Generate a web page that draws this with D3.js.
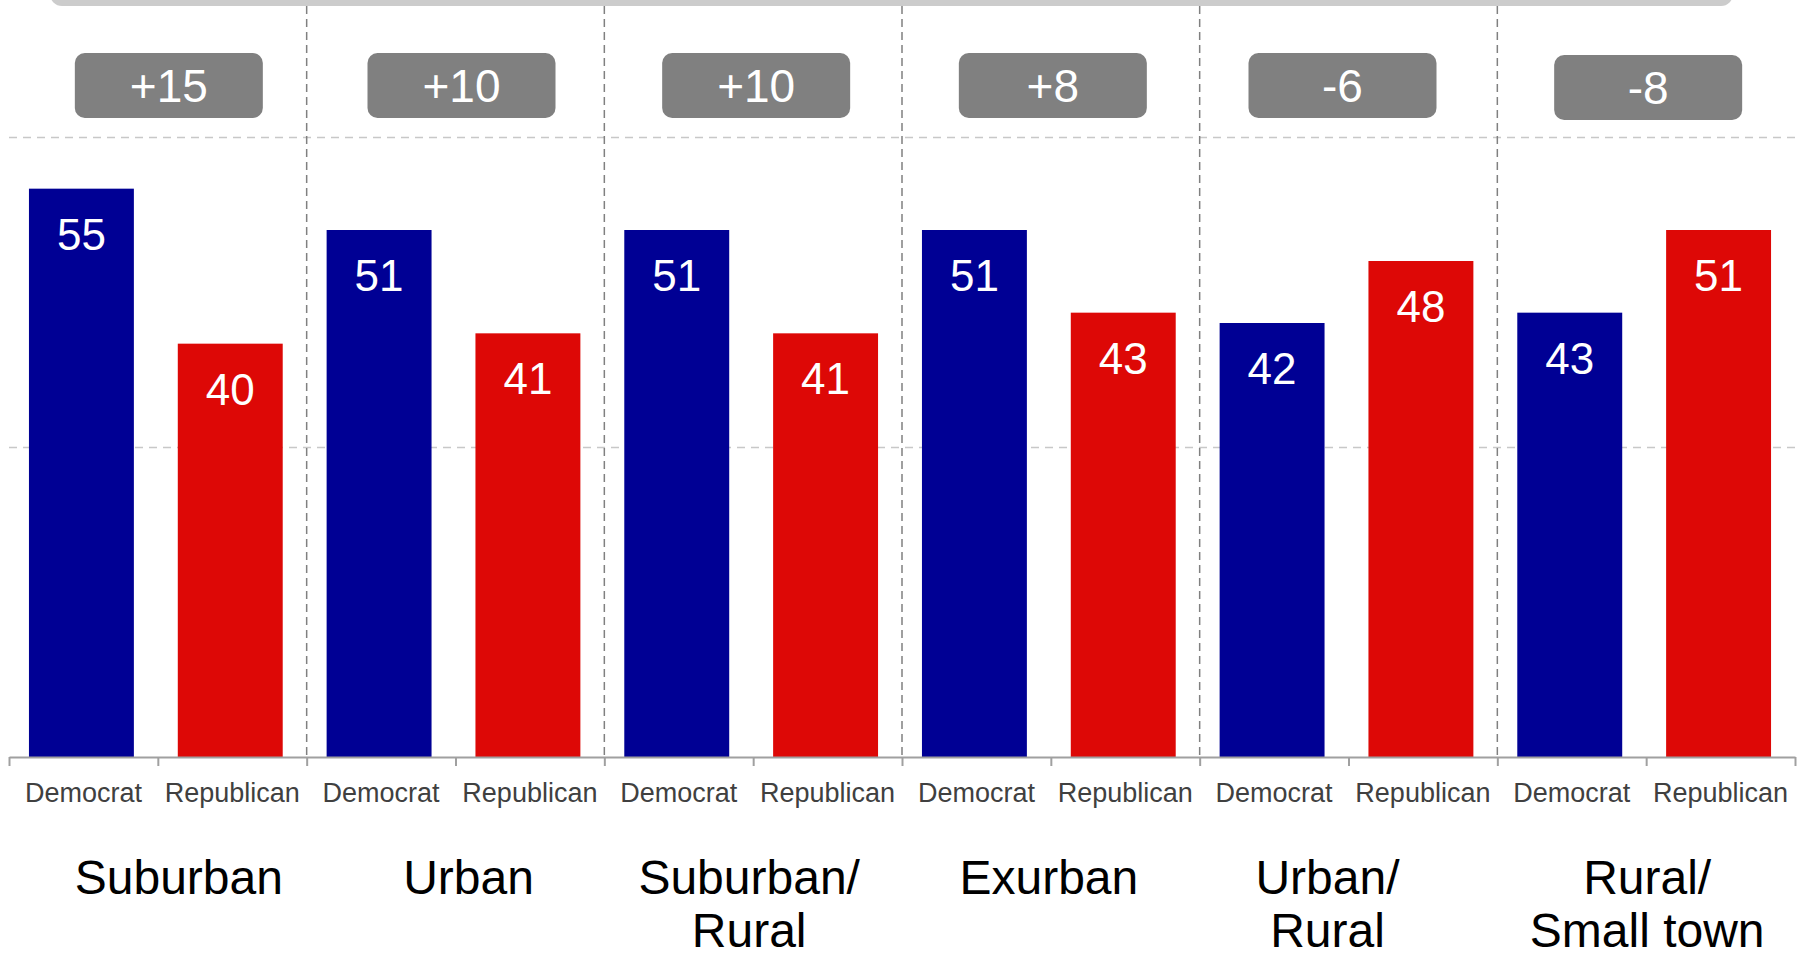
<!DOCTYPE html>
<html>
<head>
<meta charset="utf-8">
<script src="https://d3js.org/d3.v7.min.js"></script>
<style>
body { margin: 0; background: #fff; }
svg { display: block; font-family: "Liberation Sans", Arial, sans-serif; }
</style>
</head>
<body>
<div id="chart"></div>
<script>
var groups = ["Suburban", "Urban", "Suburban/Rural", "Exurban", "Urban/Rural", "Rural/Small town"];
var groupLines = [["Suburban"], ["Urban"], ["Suburban/", "Rural"], ["Exurban"], ["Urban/", "Rural"], ["Rural/", "Small town"]];
var parties = ["Democrat", "Republican"];
var demValues = [55, 51, 51, 51, 42, 43];
var repValues = [40, 41, 41, 43, 48, 51];
var yTicks = [30, 60];

function drawChart() {
    var width = 1808;
    var height = 959;
    var x0 = 9, x1 = 1795;
    var yBase = 757;
    var yTop = 137;
    // hand placed boxes in the original are a little off centre
    var badgeShift = [11, 6, 3, 2, -6, 2];
    var badgeDrop = [0, 0, 0, 0, 0, 2];
    var nameShift = [21, 13, -4, -2, -21, 1];

    var data = [];
    for (var i = 0; i < groups.length; i++) {
        data.push({ group: i, party: parties[0], value: demValues[i] });
        data.push({ group: i, party: parties[1], value: repValues[i] });
    }

    var svg = d3.select("#chart")
        .append("svg")
        .attr("width", width)
        .attr("height", height);

    var x = d3.scaleBand()
        .domain(d3.range(data.length))
        .range([x0, x1])
        .paddingInner(0.295)
        .paddingOuter(0.1475);

    var edge = d3.scaleLinear()
        .domain([0, data.length])
        .range([x0, x1]);

    var y = d3.scaleLinear()
        .domain([0, 60])
        .range([yBase, yTop]);

    // cut off title box at the very top
    svg.append("rect")
        .attr("x", 50)
        .attr("y", -40)
        .attr("width", 1683)
        .attr("height", 46)
        .attr("rx", 12)
        .attr("fill", "#cccccc");

    // horizontal gridlines
    svg.append("g")
        .selectAll("line")
        .data(yTicks)
        .enter()
        .append("line")
        .attr("x1", x0)
        .attr("x2", x1)
        .attr("y1", function(d) { return Math.round(y(d)) + 0.5; })
        .attr("y2", function(d) { return Math.round(y(d)) + 0.5; })
        .attr("stroke", "#c8c8c8")
        .attr("stroke-width", 1.5)
        .attr("stroke-dasharray", "8,6");

    // group dividers
    svg.append("g")
        .selectAll("line")
        .data(d3.range(1, groups.length))
        .enter()
        .append("line")
        .attr("x1", function(d) { return edge(d * 2); })
        .attr("x2", function(d) { return edge(d * 2); })
        .attr("y1", 6)
        .attr("y2", yBase)
        .attr("stroke", "#808080")
        .attr("stroke-width", 1.5)
        .attr("stroke-dasharray", "8,5");

    // bars
    svg.append("g")
        .selectAll("rect")
        .data(data)
        .enter()
        .append("rect")
        .attr("x", function(d, i) { return x(i) - 2; })
        .attr("width", x.bandwidth())
        .attr("y", function(d) { return y(d.value); })
        .attr("height", function(d) { return yBase - y(d.value); })
        .attr("fill", function(d) { return d.party == "Democrat" ? "#000094" : "#dd0806"; });

    // value labels
    svg.append("g")
        .selectAll("text")
        .data(data)
        .enter()
        .append("text")
        .attr("x", function(d, i) { return x(i) - 2 + x.bandwidth() / 2; })
        .attr("y", function(d) { return y(d.value) + 61; })
        .attr("text-anchor", "middle")
        .attr("fill", "#fff")
        .style("font-size", "44px")
        .text(function(d) { return d.value; });

    // axis
    var axis = d3.axisBottom(edge)
        .tickValues(d3.range(0, data.length + 1))
        .tickSize(9)
        .tickSizeOuter(0)
        .tickFormat("");
    var ax = svg.append("g")
        .attr("transform", "translate(0," + yBase + ")")
        .call(axis);
    ax.select(".domain").attr("stroke", "#a0a0a0").attr("stroke-width", 2);
    ax.selectAll(".tick line").attr("stroke", "#a0a0a0").attr("stroke-width", 2);

    // party labels
    svg.append("g")
        .selectAll("text")
        .data(data)
        .enter()
        .append("text")
        .attr("x", function(d, i) { return x(i) + x.bandwidth() / 2; })
        .attr("y", 802)
        .attr("text-anchor", "middle")
        .attr("fill", "#404040")
        .style("font-size", "27px")
        .text(function(d) { return d.party; });

    // net margin badges
    var badge = svg.append("g")
        .selectAll("g")
        .data(groups)
        .enter()
        .append("g")
        .attr("transform", function(d, i) {
            return "translate(" + (edge(i * 2 + 1) + badgeShift[i]) + "," + badgeDrop[i] + ")";
        });
    badge.append("rect")
        .attr("x", -94)
        .attr("y", 53)
        .attr("width", 188)
        .attr("height", 65)
        .attr("rx", 10)
        .attr("fill", "#808080");
    badge.append("text")
        .attr("x", 0)
        .attr("y", 102)
        .attr("text-anchor", "middle")
        .attr("fill", "#fff")
        .style("font-size", "46px")
        .text(function(d, i) {
            var net = demValues[i] - repValues[i];
            return (net > 0 ? "+" : "") + net;
        });

    // group names
    var names = svg.append("g")
        .selectAll("text")
        .data(groupLines)
        .enter()
        .append("text")
        .attr("text-anchor", "middle")
        .attr("fill", "#000")
        .style("font-size", "48px");
    names.selectAll("tspan")
        .data(function(d, i) { return d.map(function(l) { return { line: l, g: i }; }); })
        .enter()
        .append("tspan")
        .attr("x", function(d) { return edge(d.g * 2 + 1) + nameShift[d.g]; })
        .attr("y", function(d, j) { return 894 + j * 53; })
        .text(function(d) { return d.line; });
}

drawChart();
</script>
</body>
</html>
